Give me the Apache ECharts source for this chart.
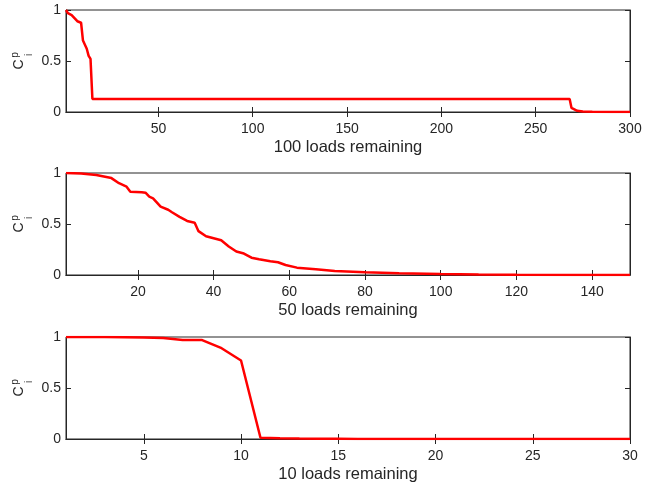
<!DOCTYPE html>
<html>
<head>
<meta charset="utf-8">
<script src="https://cdn.jsdelivr.net/npm/echarts@6/dist/echarts.min.js"></script>
<style>
  html, body { margin: 0; padding: 0; background: #fff; }
  #chart { width: 665px; height: 486px; }
</style>
</head>
<body>
<div id="chart"></div>
<script>
// panel 1: 100 loads remaining
const x100 = [1, 2, 3, 4, 5, 6, 7, 8, 9, 10, 11, 12, 13, 14, 15, 268, 269, 270, 272, 275, 280, 290, 300]
const y100 = [1, 0.97, 0.96, 0.95, 0.93, 0.92, 0.89, 0.88, 0.875, 0.7, 0.69, 0.62, 0.55, 0.52, 0.127, 0.127, 0.04, 0.025, 0.012, 0.006, 0.002, 0.001, 0]
const ticks100 = [50, 100, 150, 200, 250, 300]

// panel 2: 50 loads remaining
const x50 = [1, 5, 9, 13, 15, 17, 18, 21, 22, 23, 24, 26, 28, 29, 31, 33, 35, 36, 38, 40, 42, 44, 46, 48, 50, 52, 55, 57, 59, 62, 67, 72, 80, 89, 100, 110, 120, 135, 150]
const y50 = [1, 0.995, 0.98, 0.95, 0.9, 0.866, 0.817, 0.812, 0.807, 0.768, 0.752, 0.67, 0.64, 0.615, 0.57, 0.53, 0.513, 0.43, 0.38, 0.36, 0.34, 0.28, 0.23, 0.21, 0.17, 0.155, 0.135, 0.125, 0.098, 0.072, 0.056, 0.04, 0.026, 0.017, 0.01, 0.005, 0.003, 0.001, 0]
const ticks50 = [20, 40, 60, 80, 100, 120, 140]

// panel 3: 10 loads remaining
const x10 = [1, 2, 3, 4, 5, 6, 7, 8, 9, 10, 11, 12, 13, 14, 15, 16, 17, 18, 19, 20, 21, 22, 23, 24, 25, 26, 27, 28, 29, 30]
const y10 = [1, 1, 1, 0.998, 0.995, 0.99, 0.97, 0.97, 0.89, 0.77, 0.012, 0.008, 0.005, 0.003, 0.002, 0.001, 0.001, 0, 0, 0, 0, 0, 0, 0, 0, 0, 0, 0, 0, 0]
const ticks10 = [5, 10, 15, 20, 25, 30]

const yTicks = [0, 0.5, 1]
const names = ['100 loads remaining', '50 loads remaining', '10 loads remaining']

const panels = [
  { xs: x100, ys: y100, ticks: ticks100, max: 300, top: 10 },
  { xs: x50, ys: y50, ticks: ticks50, max: 150, top: 173 },
  { xs: x10, ys: y10, ticks: ticks10, max: 30, top: 337 }
]

const axisColor = '#262626'
const font = 'Liberation Sans, Arial, sans-serif'

const chart = echarts.init(document.getElementById('chart'))

const grid = []
const xAxis = []
const yAxis = []
const series = []
const graphic = []

panels.forEach((p, i) => {
  grid.push({
    left: 66,
    right: 35,
    top: p.top,
    height: 102,
    show: true,
    borderColor: axisColor,
    borderWidth: 1,
    backgroundColor: 'transparent'
  })
  // bottom axis
  xAxis.push({
    type: 'value',
    gridIndex: i,
    position: 'bottom',
    min: 1,
    max: p.max,
    name: names[i],
    nameLocation: 'middle',
    nameGap: 27,
    nameTextStyle: { color: axisColor, fontSize: 16.5, fontFamily: font, verticalAlign: 'top' },
    axisLine: { show: true, lineStyle: { color: axisColor, width: 1 } },
    axisTick: { show: true, inside: true, length: 5, customValues: p.ticks, lineStyle: { color: axisColor } },
    axisLabel: { color: axisColor, fontSize: 14, fontFamily: font, margin: 10, customValues: p.ticks },
    splitLine: { show: false }
  })
  // top axis, ticks only
  xAxis.push({
    type: 'value',
    gridIndex: i,
    position: 'top',
    min: 1,
    max: p.max,
    axisLine: { show: true, lineStyle: { color: axisColor, width: 1 } },
    axisTick: { show: true, inside: true, length: 5, customValues: p.ticks, lineStyle: { color: axisColor } },
    axisLabel: { show: false, customValues: p.ticks },
    splitLine: { show: false }
  })
  yAxis.push({
    type: 'value',
    gridIndex: i,
    position: 'left',
    min: 0,
    max: 1,
    axisLine: { show: true, lineStyle: { color: axisColor, width: 1 } },
    axisTick: { show: true, inside: true, length: 5, customValues: yTicks, lineStyle: { color: axisColor } },
    axisLabel: { color: axisColor, fontSize: 14, fontFamily: font, margin: 5, customValues: yTicks },
    splitLine: { show: false }
  })
  yAxis.push({
    type: 'value',
    gridIndex: i,
    position: 'right',
    min: 0,
    max: 1,
    axisLine: { show: true, lineStyle: { color: axisColor, width: 1 } },
    axisTick: { show: true, inside: true, length: 5, customValues: yTicks, lineStyle: { color: axisColor } },
    axisLabel: { show: false, customValues: yTicks },
    splitLine: { show: false }
  })
  series.push({
    type: 'line',
    xAxisIndex: i * 2,
    yAxisIndex: i * 2,
    data: p.xs.map((x, k) => [x, p.ys[k]]),
    showSymbol: false,
    symbol: 'none',
    lineStyle: { color: '#ff0000', width: 2.5 },
    animation: false
  })
  // C_i^p label, rotated
  graphic.push({
    type: 'group',
    x: 19.5,
    y: p.top + 54.5,
    rotation: Math.PI / 2,
    children: [
      { type: 'text', x: 0, y: 0, style: { text: 'C', fontSize: 14, fontFamily: font, fill: axisColor, align: 'center', verticalAlign: 'middle' } },
      { type: 'text', x: 9.5, y: -4, style: { text: 'p', fontSize: 10, fontFamily: font, fill: axisColor, align: 'center', verticalAlign: 'middle' } },
      { type: 'text', x: 9.5, y: 10, style: { text: 'i', fontSize: 10, fontFamily: font, fill: axisColor, align: 'center', verticalAlign: 'middle' } }
    ]
  })
})

chart.setOption({
  animation: false,
  grid: grid,
  xAxis: xAxis,
  yAxis: yAxis,
  series: series,
  graphic: graphic
})
</script>
</body>
</html>
